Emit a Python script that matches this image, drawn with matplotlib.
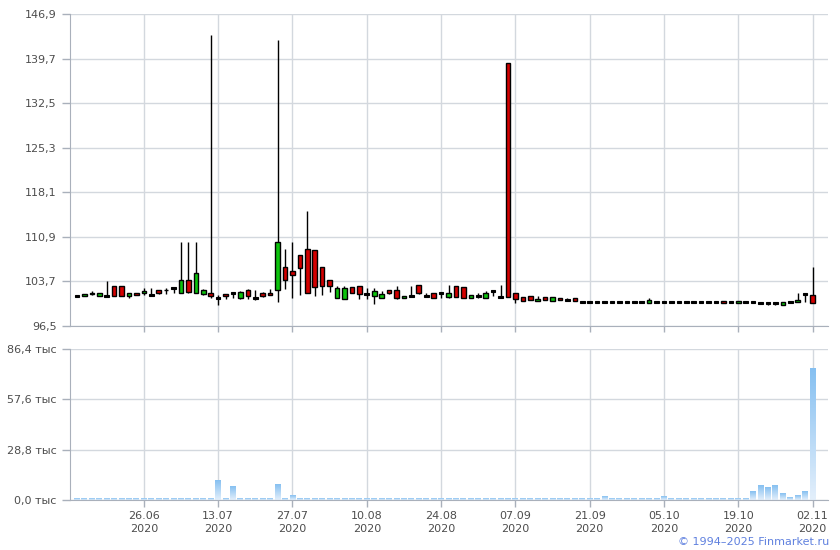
import numpy as np
import matplotlib.pyplot as plt
from matplotlib.colors import LinearSegmentedColormap

# daily OHLC, trading days from mid-June to 02.11.2020
opens = [
    101.4, 101.3, 101.6, 101.3, 101.4, 102.9, 102.9, 101.3, 101.8, 101.8,
    101.5, 102.3, 102.35, 102.7, 101.8, 104.0, 101.8, 101.7, 101.8, 101.1,
    101.6, 101.8, 101.1, 102.3, 101.1, 101.8, 101.8, 102.3, 106.0, 105.4,
    108.0, 108.9, 108.7, 106.0, 103.9, 101.1, 100.8, 102.8, 102.9, 101.6,
    101.3, 101.0, 102.3, 102.3, 101.0, 101.3, 103.1, 101.3, 101.9, 101.9,
    101.2, 103.0, 102.8, 101.1, 101.4, 101.1, 102.1, 101.2, 139.0, 101.8,
    101.2, 101.3, 100.5, 101.23, 100.6, 101.1, 100.65, 101.1, 100.45, 100.42,
    100.42, 100.45, 100.42, 100.42, 100.42, 100.45, 100.45, 100.16, 100.42, 100.45,
    100.42, 100.42, 100.42, 100.45, 100.45, 100.45, 100.42, 100.5, 100.42, 100.16,
    100.42, 100.3, 100.16, 100.16, 100.16, 99.95, 100.45, 100.32, 101.67, 101.5,
]
closes = [
    101.4, 101.6, 101.9, 101.9, 101.4, 101.4, 101.3, 101.8, 101.5, 102.1,
    101.5, 101.8, 102.3, 102.7, 104.0, 102.0, 105.0, 102.3, 101.3, 101.1,
    101.3, 101.8, 102.0, 101.3, 101.1, 101.4, 101.5, 110.0, 103.9, 104.7,
    105.9, 101.9, 102.8, 103.0, 103.0, 102.7, 102.6, 101.9, 101.6, 101.6,
    102.1, 101.6, 101.9, 101.1, 101.3, 101.3, 101.9, 101.3, 101.1, 101.9,
    101.8, 101.2, 101.1, 101.5, 101.4, 101.9, 102.1, 101.2, 101.2, 100.9,
    100.6, 100.7, 100.9, 100.65, 101.25, 100.65, 100.65, 100.5, 100.45, 100.42,
    100.42, 100.45, 100.42, 100.42, 100.42, 100.45, 100.45, 100.65, 100.42, 100.45,
    100.42, 100.42, 100.42, 100.45, 100.45, 100.45, 100.42, 100.2, 100.42, 100.5,
    100.42, 100.3, 100.16, 100.16, 100.16, 100.4, 100.45, 100.75, 101.67, 100.16,
]
highs = [
    101.45, 101.6, 102.2, 101.9, 103.8, 102.9, 102.9, 101.8, 101.8, 102.7,
    102.7, 102.3, 102.6, 102.8, 110.1, 110.1, 110.1, 102.5, 143.5, 101.5,
    101.6, 101.8, 102.1, 102.5, 102.3, 102.0, 102.5, 142.7, 108.9, 110.0,
    108.0, 115.1, 108.7, 106.0, 103.9, 103.0, 103.0, 102.8, 103.0, 102.6,
    102.6, 102.2, 102.3, 102.9, 101.3, 102.9, 103.1, 101.8, 101.9, 101.9,
    103.1, 103.0, 102.8, 101.5, 101.9, 102.2, 102.1, 103.2, 139.0, 101.8,
    101.2, 101.3, 101.4, 101.23, 101.25, 101.1, 101.06, 101.1, 100.45, 100.42,
    100.42, 100.45, 100.42, 100.42, 100.42, 100.45, 100.45, 101.06, 100.42, 100.45,
    100.42, 100.42, 100.42, 100.45, 100.45, 100.45, 100.42, 100.5, 100.42, 100.5,
    100.42, 100.42, 100.16, 100.16, 100.16, 100.45, 100.45, 101.83, 101.67, 106.0,
]
lows = [
    101.35, 101.3, 101.5, 101.3, 101.3, 101.4, 101.3, 101.1, 101.5, 101.5,
    101.5, 101.7, 101.7, 101.8, 101.8, 101.9, 101.8, 101.5, 101.0, 99.9,
    100.9, 101.0, 100.9, 100.9, 100.7, 101.2, 101.5, 100.3, 102.5, 101.0,
    101.5, 101.9, 101.4, 101.5, 102.0, 101.1, 100.8, 101.9, 100.8, 100.8,
    100.0, 101.0, 101.6, 100.9, 101.0, 101.2, 101.6, 101.3, 101.1, 101.0,
    101.1, 101.2, 101.1, 101.1, 101.0, 101.1, 101.3, 101.2, 101.2, 100.2,
    100.6, 100.7, 100.5, 100.65, 100.6, 100.65, 100.65, 100.5, 100.2, 100.42,
    100.42, 100.45, 100.42, 100.42, 100.2, 100.2, 100.2, 100.16, 100.42, 100.2,
    100.42, 100.2, 100.42, 100.2, 100.2, 100.2, 100.42, 100.2, 100.42, 100.16,
    100.42, 100.16, 100.0, 99.95, 99.95, 99.95, 100.45, 100.32, 100.42, 100.16,
]
# volume, thousands
volumes = [
    0.7, 0.7, 0.7, 0.7, 0.7, 1.1, 0.7, 0.7, 0.7, 0.7,
    0.7, 0.7, 0.7, 0.7, 0.7, 0.7, 0.7, 0.7, 0.7, 10.9,
    0.7, 8.0, 0.7, 0.7, 0.7, 0.7, 0.7, 9.1, 1.1, 2.3,
    0.7, 1.1, 0.7, 1.1, 0.7, 0.7, 0.7, 0.7, 0.7, 0.7,
    1.1, 0.7, 1.1, 1.1, 0.7, 0.7, 0.7, 0.7, 0.7, 0.7,
    0.7, 0.7, 0.7, 0.7, 0.7, 0.7, 0.7, 0.7, 0.7, 1.1,
    0.7, 0.7, 0.7, 0.7, 0.7, 0.7, 0.7, 1.1, 1.1, 0.7,
    0.7, 2.0, 0.7, 0.7, 0.7, 0.7, 0.7, 0.7, 0.7, 2.0,
    0.7, 0.7, 0.7, 0.7, 0.7, 0.7, 0.7, 0.7, 0.7, 0.7,
    0.7, 4.6, 8.3, 7.0, 8.3, 3.7, 1.2, 2.4, 4.6, 75.0,
]

date_pos = [9, 19, 29, 39, 49, 59, 69, 79, 89, 99]
date_labels = ['26.06\n2020', '13.07\n2020', '27.07\n2020', '10.08\n2020', '24.08\n2020',
               '07.09\n2020', '21.09\n2020', '05.10\n2020', '19.10\n2020', '02.11\n2020']
price_ticks = [96.5, 103.7, 110.9, 118.1, 125.3, 132.5, 139.7, 146.9]
vol_ticks = [0.0, 28.8, 57.6, 86.4]

grid_c = '#d3d8de'
spine_c = '#a9b0bb'
text_c = '#4d4d4d'

fig = plt.figure(figsize=(8.4, 5.5), dpi=100)
ax = fig.add_axes([70 / 840, 1 - 326 / 550, 758 / 840, 312 / 550])
axv = fig.add_axes([70 / 840, 1 - 500 / 550, 758 / 840, 151 / 550])

x = np.arange(len(opens))
o = np.array(opens)
c = np.array(closes)
h = np.array(highs)
l = np.array(lows)
xlim = (-0.94, 101.07)

for a in (ax, axv):
    a.set_xlim(*xlim)
    a.set_axisbelow(True)
    a.grid(True, color=grid_c, lw=1)
    for s in ('top', 'right'):
        a.spines[s].set_visible(False)
    a.spines['left'].set_color(spine_c)
    a.spines['bottom'].set_color(spine_c)
    a.tick_params(colors=spine_c, labelcolor=text_c, labelsize=8, length=6, width=1)
    a.set_xticks(date_pos)

# candles
ax.vlines(x, l, h, color='black', lw=1, zorder=2)
up = c > o
down = c < o
flat = ~(up | down)
ax.bar(x[up], (c - o)[up], bottom=o[up], width=0.62, color='#0dc40d', edgecolor='black', lw=1, zorder=3)
ax.bar(x[down], (o - c)[down], bottom=c[down], width=0.62, color='#d40000', edgecolor='black', lw=1, zorder=3)
ax.bar(x[flat], 0.32, bottom=o[flat] - 0.16, width=0.62, color='black', edgecolor='black', lw=0.8, zorder=3)

ax.set_ylim(96.5, 146.9)
ax.set_yticks(price_ticks)
ax.set_yticklabels([f'{t:.1f}'.replace('.', ',') for t in price_ticks])
ax.set_xticklabels([])
ax.tick_params(axis='x', length=4)

# volume bars with vertical gradient
cmap = LinearSegmentedColormap.from_list('vol', ['#e3effb', '#86c0f1'])
grad = np.linspace(0, 1, 64).reshape(-1, 1)
for xi, v in zip(x, volumes):
    axv.imshow(grad, extent=[xi - 0.4, xi + 0.4, 0, v], origin='lower', cmap=cmap,
               aspect='auto', zorder=2, interpolation='bilinear')
axv.set_xlim(*xlim)
axv.set_ylim(0, 86.4)
axv.set_yticks(vol_ticks)
axv.set_yticklabels([f'{t:.1f}'.replace('.', ',') + ' тыс' for t in vol_ticks])
axv.set_xticklabels(date_labels, linespacing=1.35)
axv.tick_params(axis='x', length=5, pad=3)

fig.text(829 / 840, 1 - 542 / 550, '© 1994–2025 Finmarket.ru', ha='right', va='center',
         color='#5f80df', fontsize=8)

fig.savefig('out.png', dpi=100)
